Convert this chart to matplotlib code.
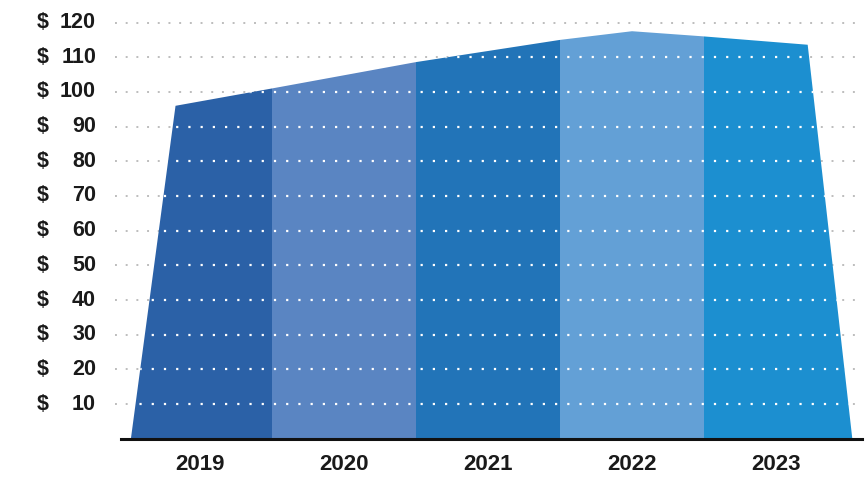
import numpy as np
import matplotlib.pyplot as plt
from matplotlib.patches import Polygon
from matplotlib.transforms import blended_transform_factory

# datos
years = ["2019", "2020", "2021", "2022", "2023"]
colors = ["#2b61a7", "#5a85c2", "#2274b8", "#63a0d6", "#1c8fd0"]
# contorno superior del area (posicion en x, valor en $)
profile_x = [-0.48, -0.17, 0.5, 1.5, 2.5, 3.0, 3.5, 4.22, 4.53]
profile_v = [0, 96, 101, 108.6, 115, 117.5, 116, 113.6, 0]
ticks = [10, 20, 30, 40, 50, 60, 70, 80, 90, 100, 110, 120]

plt.rcParams['font.family'] = ['Liberation Sans Narrow', 'Liberation Sans', 'DejaVu Sans']

fig = plt.figure(figsize=(8.65, 4.78), dpi=100)
ax = fig.add_axes([0.133, 0.082, 0.864, 0.918])
ax.set_xlim(-0.59, 4.60)
ax.set_ylim(0, 126.5)

# lineas de grilla grises (fuera del area)
for t in ticks:
    ax.plot([-0.59, 4.57], [t, t], color="#bdbdbd", lw=1.4, ls=(0, (1, 4.5)), zorder=1)

poly = Polygon(np.column_stack([profile_x, profile_v]), closed=True,
               facecolor="none", edgecolor="none")
ax.add_patch(poly)

# bandas de color por año, recortadas al contorno
for i, c in enumerate(colors):
    left = i - 0.5 if i > 0 else -0.6
    right = i + 0.5 if i < len(colors) - 1 else 4.6
    span = ax.axvspan(left, right, color=c, lw=0, zorder=2)
    span.set_clip_path(poly)

# grilla blanca sobre el area
for t in ticks:
    ln, = ax.plot([-0.59, 4.57], [t, t], color="white", lw=1.6, ls=(0, (1, 4.5)), zorder=3)
    ln.set_clip_path(poly)

# linea base
ax.plot([-0.55, 4.60], [0, 0], color="#111111", lw=2.2, zorder=4, clip_on=False)

for s in ax.spines.values():
    s.set_visible(False)
ax.set_xticks([])
ax.set_yticks([])

# etiquetas del eje y
tr = blended_transform_factory(fig.transFigure, ax.transData)
for t in ticks:
    ax.text(0.042, t, "$", transform=tr, ha="left", va="center",
            fontsize=15.5, fontweight="bold", color="#1a1a1a")
    ax.text(0.111, t, str(t), transform=tr, ha="right", va="center",
            fontsize=15.5, fontweight="bold", color="#1a1a1a")

# etiquetas de años
for i, y in enumerate(years):
    ax.text(i, -7.5, y, ha="center", va="center", fontsize=16,
            fontweight="bold", color="#1a1a1a", clip_on=False)

fig.savefig("out.png", dpi=100)
